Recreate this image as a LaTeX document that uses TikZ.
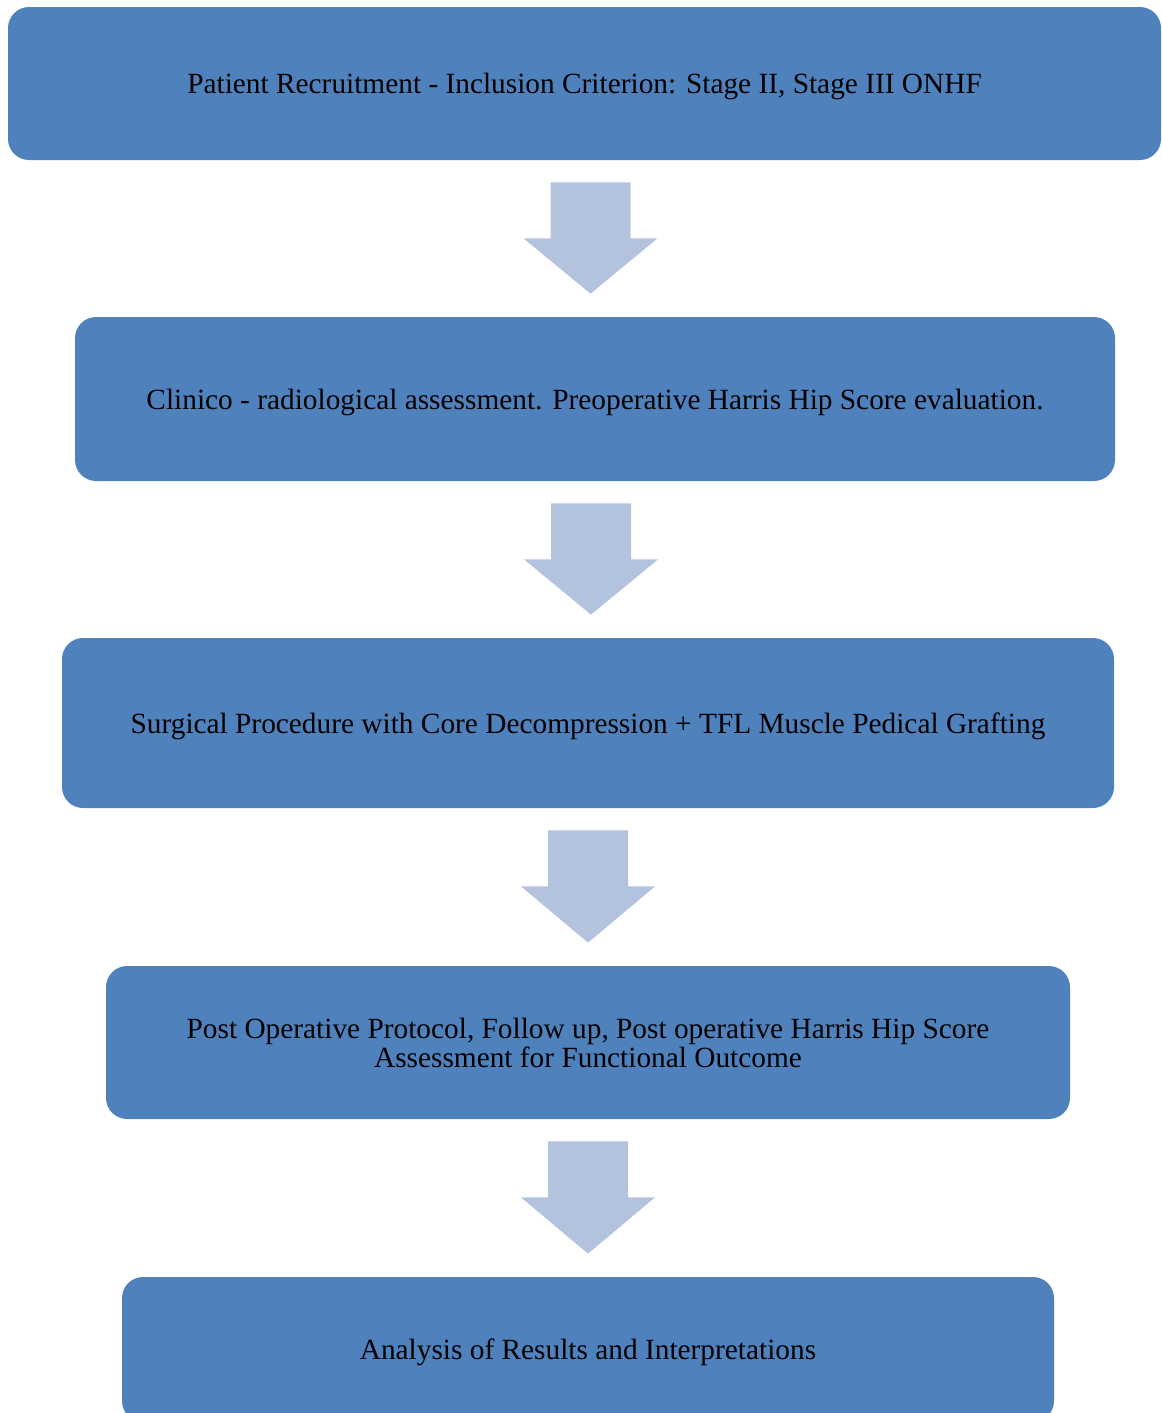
\documentclass[tikz,border=0pt]{standalone}
\usepackage{fontspec}
\setmainfont{Liberation Serif}
\usetikzlibrary{calc}

\definecolor{boxblue}{HTML}{4F81BD}
\definecolor{arrowblue}{HTML}{B3C3DE}

\tikzset{
	stagebox/.style={fill=boxblue, rounded corners=12, inner sep=0pt, align=center,
		text depth=0pt, font=\fontsize{16.7}{16.5}\selectfont},
	flowarrow/.style={fill=arrowblue}
}

\begin{document}
\begin{tikzpicture}[x=0.02cm,y=-0.02cm]
		\useasboundingbox (0,0) rectangle (1161,1413);
		\node[stagebox, minimum width=1153*0.02cm, minimum height=153*0.02cm] (b1) at (584.5,83.5)
			{Patient Recruitment - Inclusion Criterion: Stage II, Stage III ONHF};
		\node[stagebox, minimum width=1040*0.02cm, minimum height=164*0.02cm] (b2) at (595,399)
			{Clinico - radiological assessment. Preoperative Harris Hip Score evaluation.};
		\node[stagebox, minimum width=1052*0.02cm, minimum height=170*0.02cm] (b3) at (588,723)
			{Surgical Procedure with Core Decompression + TFL Muscle Pedical Grafting};
		\node[stagebox, text depth=, minimum width=964*0.02cm, minimum height=153*0.02cm] (b4) at (588,1042.5)
			{Post Operative Protocol, Follow up, Post operative Harris Hip Score\\Assessment for Functional Outcome};
		\node[stagebox, minimum width=932*0.02cm, minimum height=145*0.02cm] (b5) at (588,1349.5)
			{Analysis of Results and Interpretations};
		% block arrows between the stages
		\foreach \i/\j/\dx in {1/2/6,2/3/-4,3/4/0,4/5/0}{
			\coordinate (t\i) at ($(b\i.south)+(\dx,22)$);
			\coordinate (tip\i) at ($(t\i |- b\j.north)+(0,-23)$);
			\fill[flowarrow] ($(t\i)+(-40,0)$) -- ($(t\i)+(40,0)$) -- ($(t\i)+(40,56)$) -- ($(t\i)+(67,56)$)
				-- (tip\i) -- ($(t\i)+(-67,56)$) -- ($(t\i)+(-40,56)$) -- cycle;
		}
	\end{tikzpicture}
\end{document}
